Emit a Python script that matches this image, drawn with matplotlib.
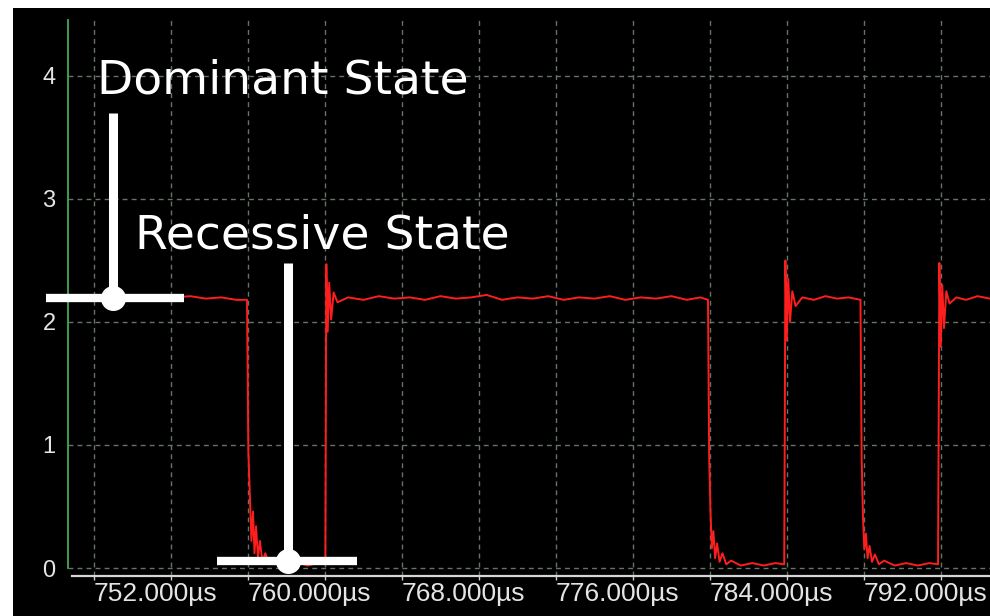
import matplotlib
matplotlib.use("Agg")
import matplotlib.pyplot as plt
from matplotlib.ticker import FixedLocator, FixedFormatter

# ---------------- data ----------------
time_us = [
    750.65, 751.4, 752.2, 753.0, 753.8, 754.6, 755.4, 756.2, 757.0, 757.8, 758.6, 759.4, 759.95,
    760.02, 760.1, 760.18, 760.26, 760.34, 760.42, 760.52, 760.62, 760.75, 760.9, 761.1, 761.4,
    761.9, 762.5, 763.1, 763.6, 764.02,
    764.07, 764.14, 764.22, 764.32, 764.45, 764.65, 765.2, 766.0, 766.8, 767.6, 768.4, 769.2,
    770.0, 770.8, 771.6, 772.4, 773.2, 774.0, 774.8, 775.6, 776.4, 777.2, 778.0, 778.8, 779.6,
    780.4, 781.2, 782.0, 782.8, 783.5, 783.9,
    783.96, 784.03, 784.1, 784.18, 784.27, 784.37, 784.5, 784.65, 784.85, 785.1, 785.6, 786.2,
    786.8, 787.4, 787.86,
    787.92, 787.99, 788.07, 788.16, 788.28, 788.45, 788.8, 789.4, 790.0, 790.6, 791.2, 791.82,
    791.88, 791.95, 792.02, 792.1, 792.19, 792.29, 792.42, 792.57, 792.78, 793.05, 793.6, 794.2,
    794.8, 795.4, 795.85,
    795.92, 795.99, 796.07, 796.16, 796.28, 796.45, 796.8, 797.3, 797.9, 798.55,
]
volts = [
    2.19, 2.21, 2.18, 2.20, 2.19, 2.22, 2.18, 2.20, 2.21, 2.19, 2.20, 2.18, 2.18,
    0.95, 0.58, 0.22, 0.46, 0.12, 0.34, 0.08, 0.22, 0.05, 0.12, 0.03, 0.06,
    0.02, 0.05, 0.02, 0.04, 0.03,
    2.47, 1.92, 2.32, 2.02, 2.24, 2.16, 2.20, 2.18, 2.21, 2.19, 2.20, 2.18,
    2.21, 2.19, 2.20, 2.22, 2.18, 2.20, 2.19, 2.21, 2.18, 2.20, 2.19, 2.21, 2.18,
    2.20, 2.19, 2.21, 2.18, 2.20, 2.18,
    0.90, 0.45, 0.16, 0.30, 0.08, 0.20, 0.05, 0.12, 0.03, 0.06, 0.02, 0.04,
    0.02, 0.04, 0.03,
    2.50, 1.85, 2.35, 2.00, 2.25, 2.13, 2.20, 2.18, 2.21, 2.19, 2.20, 2.18,
    0.90, 0.42, 0.15, 0.28, 0.08, 0.18, 0.05, 0.11, 0.03, 0.06, 0.02, 0.04,
    0.02, 0.04, 0.03,
    2.48, 1.80, 2.30, 1.95, 2.25, 2.15, 2.20, 2.18, 2.21, 2.19,
]
x_ticks = [752, 756, 760, 764, 768, 772, 776, 780, 784, 788, 792, 796]
x_tick_labels = ["752.000µs", "", "760.000µs", "", "768.000µs", "", "776.000µs", "",
                 "784.000µs", "", "792.000µs", ""]
y_ticks = [0, 1, 2, 3, 4]
y_tick_labels = ["0", "1", "2", "3", "4"]

# ---------------- figure ----------------
W, H = 990, 616
fig = plt.figure(figsize=(W / 100, H / 100), dpi=100, facecolor="white")
bg = fig.add_axes([13 / W, 0, (W - 13) / W, 608 / H], zorder=-5)
bg.set_facecolor("black")
bg.set_xticks([])
bg.set_yticks([])
for s in bg.spines.values():
    s.set_visible(False)

ax_left, ax_right, ax_top, ax_bottom = 68, 990, 20, 576
ax = fig.add_axes([ax_left / W, (H - ax_bottom) / H, (ax_right - ax_left) / W,
                   (ax_bottom - ax_top) / H], zorder=1)
ax.set_facecolor("none")
ax.set_xlim(750.65, 798.55)
ax.set_ylim(-0.065, 4.455)

label_font = ["Liberation Sans Narrow", "Liberation Sans", "DejaVu Sans"]

ax.xaxis.set_major_locator(FixedLocator(x_ticks))
ax.xaxis.set_major_formatter(FixedFormatter(x_tick_labels))
ax.yaxis.set_major_locator(FixedLocator(y_ticks))
ax.yaxis.set_major_formatter(FixedFormatter(y_tick_labels))

ax.tick_params(axis="x", direction="out", length=3, width=1, color="#d0d0d0",
               pad=1.5, labelsize=19, labelcolor="#e4e4e4")
ax.tick_params(axis="y", length=0, pad=9, labelsize=17, labelcolor="#e4e4e4")
for lab in ax.get_xticklabels():
    lab.set_horizontalalignment("left")
    lab.set_family(label_font)
for lab in ax.get_yticklabels():
    lab.set_family(label_font)

ax.grid(True, color="#647466", linestyle=(0, (3.5, 3)), linewidth=1.0)

for s in ("top", "right"):
    ax.spines[s].set_visible(False)
ax.spines["left"].set_color("#45a852")
ax.spines["left"].set_linewidth(1.3)
ax.spines["left"].set_bounds(0, 4.455)
ax.spines["bottom"].set_color("#d6d6d6")
ax.spines["bottom"].set_linewidth(1.6)
ax.spines["bottom"].set_bounds(750.85, 798.55)

# signal
ax.plot(time_us, volts, color="#ff1e1e", linewidth=1.4, zorder=3)

# annotations
ann = dict(color="white", zorder=6, clip_on=False, solid_capstyle="butt")
ax.text(752.16, 3.86, "Dominant State", color="white", fontsize=34,
        family="DejaVu Sans", va="baseline", ha="left", zorder=6)
ax.plot([753.0, 753.0], [2.195, 3.70], linewidth=6.5, **ann)
ax.plot([749.5, 756.7], [2.195, 2.195], linewidth=6, **ann)
ax.plot([753.0], [2.195], marker="o", markersize=17, markerfacecolor="white",
        markeredgecolor="white", linestyle="none", zorder=7, clip_on=False)

ax.text(754.13, 2.60, "Recessive State", color="white", fontsize=34,
        family="DejaVu Sans", va="baseline", ha="left", zorder=6)
ax.plot([762.08, 762.08], [0.057, 2.48], linewidth=6.5, **ann)
ax.plot([758.4, 765.66], [0.057, 0.057], linewidth=6, **ann)
ax.plot([762.08], [0.057], marker="o", markersize=17, markerfacecolor="white",
        markeredgecolor="white", linestyle="none", zorder=7, clip_on=False)

fig.savefig("out.png", dpi=100, facecolor="white")
